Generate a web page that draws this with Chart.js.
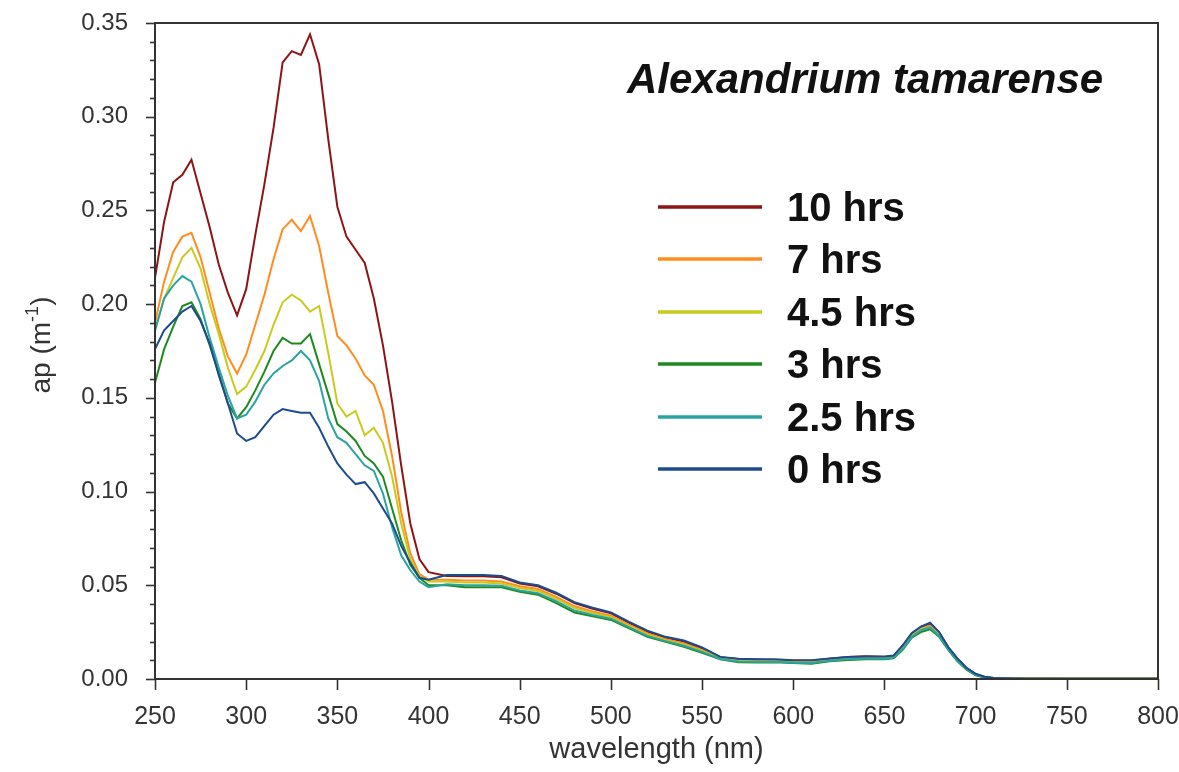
<!DOCTYPE html>
<html>
<head>
<meta charset="utf-8">
<title>Alexandrium tamarense</title>
<script src="https://cdn.jsdelivr.net/npm/chart.js@4.4.0/dist/chart.umd.min.js"></script>
<style>
    html, body { margin: 0; padding: 0; background: #fff; }
    #wrap { width: 1179px; height: 772px; }
</style>
</head>
<body>
<div id="wrap"><canvas id="apChart" width="1179" height="772"></canvas></div>
<script>
// ===============================================
// DATA
// ===============================================
const wavelengths = [
    250, 255, 260, 265, 270, 275, 280, 285, 290, 295,
    300, 305, 310, 315, 320, 325, 330, 335, 340, 345,
    350, 355, 360, 365, 370, 375, 380, 385, 390, 395,
    400, 410, 420, 430, 440, 450, 460, 470, 480, 490,
    500, 510, 520, 530, 540, 550, 560, 570, 580, 590,
    600, 610, 620, 630, 640, 650, 655, 660, 665, 670,
    675, 680, 685, 690, 695, 700, 705, 710, 720, 730,
    740, 750, 760, 770, 780, 790, 800
];

const hrs10 = [
    0.214, 0.244, 0.265, 0.269, 0.277, 0.259, 0.241, 0.221, 0.206, 0.194,
    0.208, 0.237, 0.264, 0.294, 0.329, 0.335, 0.333, 0.344, 0.328, 0.288,
    0.252, 0.236, 0.229, 0.222, 0.203, 0.178, 0.148, 0.114, 0.083, 0.064,
    0.057, 0.055, 0.0548, 0.0548, 0.0543, 0.051, 0.0495, 0.0455, 0.0405, 0.0375,
    0.035, 0.030, 0.0253, 0.022, 0.020, 0.0163, 0.0116, 0.0106, 0.0104, 0.0102,
    0.0098, 0.0097, 0.0108, 0.0118, 0.0122, 0.0118, 0.0122, 0.0176, 0.024, 0.0278,
    0.0295, 0.0248, 0.0168, 0.0108, 0.0058, 0.0026, 0.0011, 0.0006, 0.0004, 0.0003,
    0.0003, 0.0002, 0.0002, 0.0002, 0.0002, 0.0002, 0.0002
];

const hrs7 = [
    0.190, 0.212, 0.228, 0.236, 0.238, 0.225, 0.206, 0.187, 0.172, 0.163,
    0.173, 0.189, 0.205, 0.224, 0.240, 0.245, 0.239, 0.247, 0.231, 0.206,
    0.183, 0.178, 0.171, 0.162, 0.157, 0.143, 0.119, 0.089, 0.067, 0.056,
    0.053, 0.053, 0.0525, 0.0525, 0.052, 0.0495, 0.048, 0.0438, 0.0388, 0.036,
    0.0338, 0.0289, 0.0243, 0.0212, 0.0189, 0.0155, 0.0112, 0.0099, 0.0097, 0.0097,
    0.0092, 0.0091, 0.0102, 0.0111, 0.0113, 0.0113, 0.0118, 0.017, 0.0235, 0.0268,
    0.0285, 0.024, 0.0162, 0.0102, 0.0055, 0.0024, 0.001, 0.0005, 0.0004, 0.0004,
    0.0003, 0.0003, 0.0003, 0.0003, 0.0003, 0.0003, 0.0003
];

const hrs45 = [
    0.186, 0.203, 0.214, 0.225, 0.230, 0.219, 0.200, 0.184, 0.166, 0.152,
    0.156, 0.165, 0.175, 0.189, 0.201, 0.205, 0.202, 0.196, 0.199, 0.174,
    0.147, 0.140, 0.143, 0.130, 0.134, 0.126, 0.108, 0.083, 0.064, 0.055,
    0.052, 0.052, 0.0515, 0.0515, 0.051, 0.0485, 0.047, 0.0428, 0.0378, 0.0352,
    0.033, 0.0282, 0.0236, 0.0207, 0.0183, 0.015, 0.011, 0.0096, 0.0094, 0.0094,
    0.009, 0.0088, 0.0099, 0.0108, 0.011, 0.011, 0.0115, 0.0165, 0.023, 0.0265,
    0.028, 0.0236, 0.016, 0.010, 0.0053, 0.0023, 0.0009, 0.0004, 0.0003, 0.0003,
    0.0003, 0.0003, 0.0003, 0.0003, 0.0003, 0.0003, 0.0003
];

const hrs3 = [
    0.158, 0.176, 0.188, 0.199, 0.201, 0.192, 0.178, 0.163, 0.147, 0.139,
    0.145, 0.154, 0.164, 0.175, 0.182, 0.179, 0.179, 0.184, 0.168, 0.152,
    0.136, 0.132, 0.127, 0.119, 0.115, 0.108, 0.091, 0.074, 0.061, 0.054,
    0.050, 0.050, 0.049, 0.049, 0.049, 0.0465, 0.045, 0.0405, 0.0355, 0.0335,
    0.0315, 0.027, 0.0225, 0.0198, 0.0172, 0.014, 0.0105, 0.009, 0.0088, 0.009,
    0.0085, 0.0082, 0.0095, 0.0102, 0.0105, 0.0105, 0.011, 0.0155, 0.022, 0.025,
    0.0265, 0.0225, 0.0155, 0.0095, 0.005, 0.002, 0.0008, 0.0003, 0.0002, 0.0002,
    0.0002, 0.0002, 0.0002, 0.0002, 0.0002, 0.0002, 0.0002
];

const hrs25 = [
    0.186, 0.203, 0.210, 0.215, 0.212, 0.200, 0.182, 0.166, 0.151, 0.139,
    0.141, 0.148, 0.157, 0.163, 0.167, 0.170, 0.175, 0.170, 0.159, 0.139,
    0.129, 0.126, 0.120, 0.114, 0.111, 0.099, 0.081, 0.066, 0.058, 0.052,
    0.049, 0.0505, 0.050, 0.050, 0.0498, 0.0472, 0.0458, 0.0415, 0.0365, 0.0342,
    0.0322, 0.0275, 0.023, 0.0202, 0.0177, 0.0145, 0.0107, 0.0093, 0.0091, 0.0092,
    0.0087, 0.0085, 0.0097, 0.0105, 0.0108, 0.0108, 0.0113, 0.016, 0.0225, 0.026,
    0.0275, 0.023, 0.0158, 0.0098, 0.0052, 0.0022, 0.0009, 0.0004, 0.0002, 0.0002,
    0.0002, 0.0002, 0.0002, 0.0002, 0.0002, 0.0002, 0.0002
];

const hrs0 = [
    0.176, 0.186, 0.191, 0.196, 0.199, 0.191, 0.179, 0.162, 0.147, 0.131,
    0.127, 0.129, 0.135, 0.141, 0.144, 0.143, 0.142, 0.142, 0.134, 0.124,
    0.115, 0.109, 0.104, 0.105, 0.099, 0.091, 0.083, 0.071, 0.062, 0.054,
    0.053, 0.0555, 0.0555, 0.0555, 0.055, 0.0515, 0.050, 0.046, 0.041, 0.038,
    0.0355, 0.0305, 0.0258, 0.0225, 0.0205, 0.0168, 0.0118, 0.0108, 0.0105, 0.0105,
    0.010, 0.010, 0.011, 0.0118, 0.012, 0.012, 0.0125, 0.018, 0.0245, 0.028,
    0.030, 0.025, 0.017, 0.011, 0.006, 0.0028, 0.0012, 0.0006, 0.0003, 0.0002,
    0.0002, 0.0002, 0.0002, 0.0002, 0.0002, 0.0002, 0.0002
];

const seriesLabels = ["10 hrs", "7 hrs", "4.5 hrs", "3 hrs", "2.5 hrs", "0 hrs"];
const seriesValues = [hrs10, hrs7, hrs45, hrs3, hrs25, hrs0];
const seriesColors = ["#8E1414", "#FF8C1E", "#C9C91E", "#1E8A1E", "#2BA3A3", "#1C4C8E"];

const yTickStep = 0.05;
const xTickStep = 50;

// ===============================================
// DIBUJO DE MARCO, MARCAS, TITULOS Y LEYENDA
// ===============================================
const FONT = "'Liberation Sans', Arial, sans-serif";

const framePlugin = {
    id: "framePlugin",
    afterDraw(chart) {
        const ctx = chart.ctx;
        const area = chart.chartArea;
        const xs = chart.scales.x;
        const ys = chart.scales.y;

        ctx.save();
        ctx.strokeStyle = "#333";
        ctx.lineWidth = 2;
        ctx.strokeRect(area.left, area.top, area.right - area.left, area.bottom - area.top);

        // y ticks (major every 0.05, minor every 0.01)
        ctx.lineWidth = 1.6;
        for (let i = 0; i <= 35; i++) {
            const py = Math.round(ys.getPixelForValue(i / 100)) + 0.5;
            const len = i % 5 === 0 ? 9 : 5;
            ctx.beginPath();
            ctx.moveTo(area.left - len, py);
            ctx.lineTo(area.left, py);
            ctx.stroke();
        }
        // x ticks
        for (let v = 250; v <= 800; v += xTickStep) {
            const px = Math.round(xs.getPixelForValue(v)) + 0.5;
            ctx.beginPath();
            ctx.moveTo(px, area.bottom);
            ctx.lineTo(px, area.bottom + 11);
            ctx.stroke();
        }

        // y title with superscript
        ctx.fillStyle = "#333";
        ctx.textBaseline = "alphabetic";
        ctx.textAlign = "left";
        const mainFont = "28px " + FONT;
        const supFont = "18px " + FONT;
        ctx.font = mainFont;
        const w1 = ctx.measureText("ap (m").width;
        const w3 = ctx.measureText(")").width;
        ctx.font = supFont;
        const w2 = ctx.measureText("-1").width;
        const total = w1 + w2 + w3;
        ctx.translate(50, (area.top + area.bottom) / 2 - 6);
        ctx.rotate(-Math.PI / 2);
        let cx = -total / 2;
        ctx.font = mainFont;
        ctx.fillText("ap (m", cx, 0);
        cx += w1;
        ctx.font = supFont;
        ctx.fillText("-1", cx, -12);
        cx += w2;
        ctx.font = mainFont;
        ctx.fillText(")", cx, 0);
        ctx.restore();

        // species title
        ctx.save();
        ctx.fillStyle = "#111";
        ctx.font = "italic bold 42px " + FONT;
        ctx.textAlign = "left";
        ctx.textBaseline = "alphabetic";
        ctx.fillText("Alexandrium tamarense", 627, 93);

        // legend
        const rowY = [207, 259, 312, 364, 417, 469];
        ctx.font = "bold 40px " + FONT;
        chart.data.datasets.forEach((ds, i) => {
            const y = rowY[i];
            ctx.strokeStyle = ds.borderColor;
            ctx.lineWidth = 3.5;
            ctx.beginPath();
            ctx.moveTo(658, y);
            ctx.lineTo(762, y);
            ctx.stroke();
            ctx.fillStyle = "#111";
            ctx.fillText(ds.label, 787, y + 14);
        });
        ctx.restore();
    }
};

// ===============================================
// GRAFICA
// ===============================================
const datasets = seriesLabels.map((label, i) => ({
    label: label,
    data: wavelengths.map((w, j) => ({ x: w, y: seriesValues[i][j] })),
    borderColor: seriesColors[i],
    borderWidth: 2,
    pointRadius: 0,
    tension: 0,
    fill: false,
    order: seriesLabels.length - 1 - i
}));

new Chart(document.getElementById("apChart"), {
    type: "line",
    data: { datasets: datasets },
    options: {
        responsive: false,
        animation: false,
        layout: { padding: { top: 23, right: 21, left: 0, bottom: 0 } },
        plugins: {
            legend: { display: false },
            tooltip: { enabled: false }
        },
        scales: {
            x: {
                type: "linear",
                min: 250,
                max: 800,
                grid: { display: false, drawTicks: false },
                border: { display: false },
                ticks: {
                    stepSize: xTickStep,
                    maxRotation: 0,
                    autoSkip: false,
                    padding: 23,
                    color: "#333",
                    font: { family: FONT, size: 25 }
                },
                title: {
                    display: true,
                    text: "wavelength (nm)",
                    color: "#333",
                    font: { family: FONT, size: 29 },
                    padding: { top: 0, bottom: 5 }
                },
                afterFit: s => {
                    s.height = 93;
                    s.paddingLeft = 0;
                    s.paddingRight = 0;
                }
            },
            y: {
                min: 0,
                max: 0.35,
                grid: { display: false, drawTicks: false },
                border: { display: false },
                ticks: {
                    stepSize: yTickStep,
                    padding: 27,
                    color: "#333",
                    font: { family: FONT, size: 24 },
                    callback: v => v.toFixed(2)
                },
                afterFit: s => {
                    s.width = 155;
                    s.paddingTop = 0;
                    s.paddingBottom = 0;
                }
            }
        }
    },
    plugins: [framePlugin]
});
</script>
</body>
</html>
